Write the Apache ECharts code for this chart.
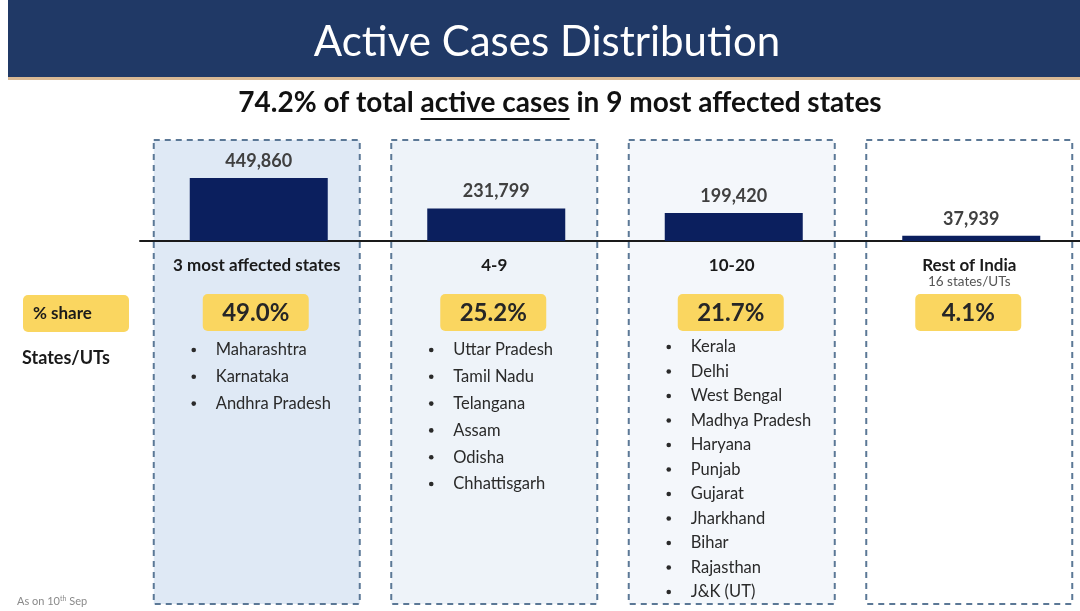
<!DOCTYPE html>
<html>
<head>
<meta charset="utf-8">
<script src="https://cdn.jsdelivr.net/npm/echarts@6/dist/echarts.min.js"></script>
<style>
html,body{margin:0;padding:0;background:#fff}
#main{width:1080px;height:611px}
</style>
</head>
<body>
<div id="main"></div>
<script>
// data
const groups = ['3 most affected states', '4-9', '10-20', 'Rest of India'];
const groupNotes = ['', '', '', '16 states/UTs'];
const activeCases = [449860, 231799, 199420, 37939];
const shares = ['49.0%', '25.2%', '21.7%', '4.1%'];
const stateLists = [
  ['Maharashtra', 'Karnataka', 'Andhra Pradesh'],
  ['Uttar Pradesh', 'Tamil Nadu', 'Telangana', 'Assam', 'Odisha', 'Chhattisgarh'],
  ['Kerala', 'Delhi', 'West Bengal', 'Madhya Pradesh', 'Haryana', 'Punjab', 'Gujarat', 'Jharkhand', 'Bihar', 'Rajasthan', 'J&K (UT)'],
  []
];

const FONT = 'Lato, "Open Sans", sans-serif';
const boxFills = ['#dfe9f5', '#eef3f9', '#f4f7fb', '#ffffff'];

const chart = echarts.init(document.getElementById('main'));
chart.setOption({
  animation: false,
  grid: {left: 140, top: 171, width: 950, height: 70, outerBoundsMode: 'none'},
  xAxis: {
    type: 'category',
    data: groups,
    axisLine: {lineStyle: {color: '#1a1a1a', width: 2}},
    axisTick: {show: false},
    axisLabel: {show: false}
  },
  yAxis: {type: 'value', min: 0, max: 500000, show: false},
  series: [{
    type: 'bar',
    data: activeCases,
    barWidth: 138,
    itemStyle: {color: '#0b1f5e'},
    z: 3,
    label: {
      show: true,
      position: 'top',
      distance: 8,
      formatter: p => p.value.toLocaleString('en-US'),
      color: '#404040',
      fontSize: 18,
      fontWeight: 'bold',
      fontFamily: FONT
    }
  }]
});

// decoration around the bars
const cx = groups.map(g => chart.convertToPixel({xAxisIndex: 0}, g));
const els = [];

els.push({type: 'rect', shape: {x: 8, y: 0, width: 1072, height: 77}, style: {fill: '#203966'}, z: -2});
els.push({type: 'rect', shape: {x: 8, y: 77, width: 1072, height: 3}, style: {fill: '#d9b994'}, z: -2});
els.push({type: 'text', x: 547, y: 42, style: {text: 'Active Cases Distribution', fill: '#ffffff', font: '42px ' + FONT, textAlign: 'center', textVerticalAlign: 'middle'}, z: 5});

// subtitle with underline
const subParts = ['74.2% of total ', 'active cases', ' in 9 most affected states'];
const subFont = 'bold 28px ' + FONT;
const ctx = document.createElement('canvas').getContext('2d');
ctx.font = subFont;
const wAll = ctx.measureText(subParts.join('')).width;
const w0 = ctx.measureText(subParts[0]).width;
const w1 = ctx.measureText(subParts[1]).width;
const sx = 560 - wAll / 2;
els.push({type: 'text', x: 560, y: 103, style: {text: subParts.join(''), fill: '#111', font: subFont, textAlign: 'center', textVerticalAlign: 'middle'}, z: 5});
els.push({type: 'line', shape: {x1: sx + w0, y1: 119, x2: sx + w0 + w1, y2: 119}, style: {stroke: '#111', lineWidth: 2}, z: 5});

// left captions
els.push({type: 'rect', shape: {x: 23, y: 295, width: 106, height: 37, r: 5}, style: {fill: '#fad660'}, z: 1});
els.push({type: 'text', x: 33, y: 314, style: {text: '% share', fill: '#1a1a1a', font: 'bold 17px ' + FONT, textVerticalAlign: 'middle'}, z: 5});
els.push({type: 'text', x: 22, y: 358, style: {text: 'States/UTs', fill: '#1a1a1a', font: 'bold 18px ' + FONT, textVerticalAlign: 'middle'}, z: 5});
els.push({type: 'text', x: 17, y: 601, style: {
  text: '{a|As on 10}{s|th}{a| Sep}',
  textVerticalAlign: 'middle',
  rich: {
    a: {fill: '#8a8a8a', fontSize: 11, fontFamily: FONT},
    s: {fill: '#8a8a8a', fontSize: 7, fontFamily: FONT, padding: [0, 0, 5, 0]}
  }
}, z: 5});

groups.forEach((g, i) => {
  const c = cx[i];
  els.push({type: 'rect', shape: {x: c - 105, y: 140, width: 206, height: 464},
    style: {fill: boxFills[i], stroke: '#5b7896', lineWidth: 2, lineDash: [6, 5]}, z: -1});
  els.push({type: 'text', x: c - 2, y: 266, style: {text: g, fill: '#1a1a1a', font: 'bold 17px ' + FONT, textAlign: 'center', textVerticalAlign: 'middle'}, z: 5});
  if (groupNotes[i]) {
    els.push({type: 'text', x: c - 2, y: 282, style: {text: groupNotes[i], fill: '#555', font: '13.5px ' + FONT, textAlign: 'center', textVerticalAlign: 'middle'}, z: 5});
  }
  els.push({type: 'rect', shape: {x: c - 56, y: 294, width: 106, height: 37, r: 5}, style: {fill: '#fad660'}, z: 1});
  els.push({type: 'text', x: c - 3, y: 313, style: {text: shares[i], fill: '#262626', font: 'bold 24px ' + FONT, textAlign: 'center', textVerticalAlign: 'middle'}, z: 5});

  const list = stateLists[i];
  const step = list.length > 8 ? 24.5 : 26.8;
  const y0 = list.length > 8 ? 347 : 350;
  list.forEach((s, k) => {
    const y = y0 + k * step;
    els.push({type: 'circle', shape: {cx: c - 65, cy: y, r: 2.3}, style: {fill: '#2a2a2a'}, z: 5});
    els.push({type: 'text', x: c - 43, y: y, style: {text: s, fill: '#2a2a2a', font: '16.5px ' + FONT, textVerticalAlign: 'middle'}, z: 5});
  });
});

chart.setOption({graphic: {elements: els}});
</script>
</body>
</html>
